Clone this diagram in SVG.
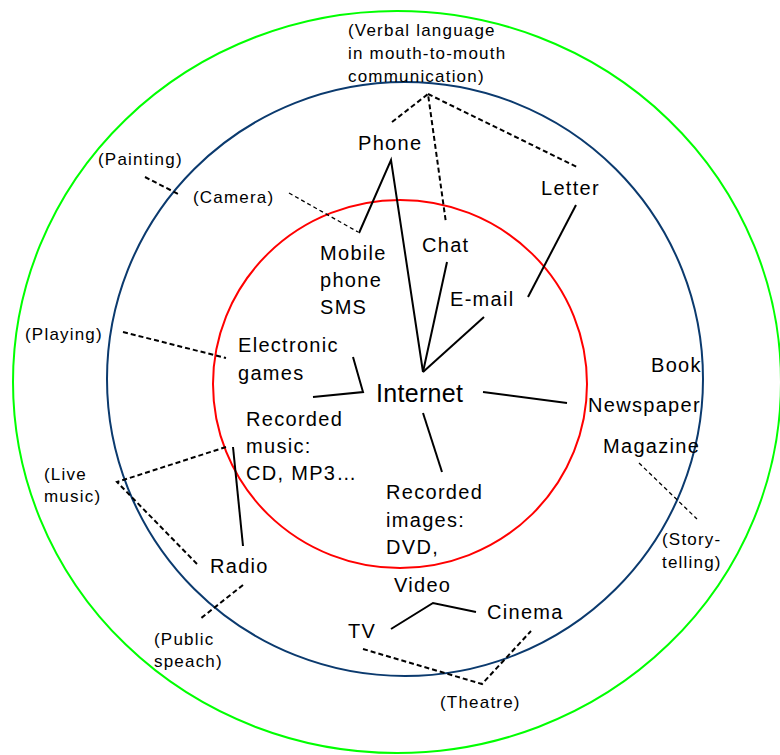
<svg xmlns="http://www.w3.org/2000/svg" width="780" height="755" viewBox="0 0 780 755">
  <style>
    .ring { fill: none; stroke-width: 2; }
    .lbl { font-family: "Liberation Sans", Arial, sans-serif; font-size: 20px; letter-spacing: 1.3px; fill: #000; }
    .big { font-size: 25px; letter-spacing: 0.3px; }
    .par { font-family: "Liberation Sans", Arial, sans-serif; font-size: 17px; letter-spacing: 1.2px; fill: #000; }
    .solid { fill: none; stroke: #000; stroke-width: 2; }
    .dash { fill: none; stroke: #000; stroke-width: 2; stroke-dasharray: 5 3; }
    .thin { fill: none; stroke: #000; stroke-width: 1.3; stroke-dasharray: 4 3; }
  </style>
  <rect width="780" height="755" fill="#fff"/>

  <!-- concentric rings -->
  <g id="rings">
    <ellipse class="ring" cx="397" cy="382" rx="384" ry="371" stroke="#00ff00"/>
    <ellipse class="ring" cx="405" cy="379" rx="298" ry="297" stroke="#0b3a6e"/>
    <ellipse class="ring" cx="400" cy="384" rx="187" ry="184" stroke="#ff0000"/>
  </g>

  <g id="connectors">
    <!-- solid links -->
    <polyline class="solid" points="359,233 391,160 423,372"/>
    <line class="solid" x1="447" y1="262" x2="423" y2="372"/>
    <line class="solid" x1="484" y1="317" x2="423" y2="372"/>
    <line class="solid" x1="576" y1="205" x2="528" y2="297"/>
    <polyline class="solid" points="353,357 363,392 313,397"/>
    <line class="solid" x1="483" y1="392" x2="567" y2="403"/>
    <line class="solid" x1="423" y1="413" x2="442" y2="472"/>
    <line class="solid" x1="233" y1="447" x2="243" y2="546"/>
    <polyline class="solid" points="391,629 433,603 476,612"/>
    <!-- dashed links -->
    <polyline class="dash" points="392,122 428,94 446,223"/>
    <line class="dash" x1="428" y1="94" x2="577" y2="167"/>
    <line class="thin" x1="289" y1="193" x2="358" y2="232"/>
    <line class="dash" x1="145" y1="177" x2="180" y2="195"/>
    <line class="dash" x1="123" y1="332" x2="226" y2="358"/>
    <polyline class="dash" points="226,447 117,482 198,565"/>
    <line class="dash" x1="243" y1="585" x2="200" y2="619"/>
    <line class="thin" x1="639" y1="463" x2="697" y2="519"/>
    <polyline class="dash" points="363,649 482,684 531,631"/>
  </g>

  <g id="verbal"><text class="par" x="348" y="36">(Verbal language</text><text class="par" x="348" y="59">in mouth-to-mouth</text><text class="par" x="348" y="82">communication)</text></g>
  <g id="phone"><text class="lbl" x="358" y="150">Phone</text></g>
  <g id="letter"><text class="lbl" x="541" y="195">Letter</text></g>
  <g id="painting"><text class="par" x="98" y="165">(Painting)</text></g>
  <g id="camera"><text class="par" x="193" y="203">(Camera)</text></g>
  <g id="chat"><text class="lbl" x="422" y="252">Chat</text></g>
  <g id="mobile"><text class="lbl" x="320" y="260">Mobile</text><text class="lbl" x="320" y="287">phone</text><text class="lbl" x="320" y="314">SMS</text></g>
  <g id="email"><text class="lbl" x="450" y="306">E-mail</text></g>
  <g id="playing"><text class="par" x="25" y="340">(Playing)</text></g>
  <g id="games"><text class="lbl" x="238" y="352">Electronic</text><text class="lbl" x="238" y="380">games</text></g>
  <g id="internet"><text class="lbl big" x="376" y="402">Internet</text></g>
  <g id="book"><text class="lbl" x="651" y="372">Book</text></g>
  <g id="newspaper"><text class="lbl" x="588" y="412">Newspaper</text></g>
  <g id="magazine"><text class="lbl" x="603" y="453">Magazine</text></g>
  <g id="storytelling"><text class="par" x="662" y="545">(Story-</text><text class="par" x="662" y="568">telling)</text></g>
  <g id="music"><text class="lbl" x="246" y="426">Recorded</text><text class="lbl" x="246" y="453">music:</text><text class="lbl" x="246" y="480">CD, MP3…</text></g>
  <g id="livemusic"><text class="par" x="44" y="480">(Live</text><text class="par" x="44" y="502">music)</text></g>
  <g id="images"><text class="lbl" x="386" y="499">Recorded</text><text class="lbl" x="386" y="527">images:</text><text class="lbl" x="386" y="554">DVD,</text></g>
  <g id="video"><text class="lbl" x="394" y="592">Video</text></g>
  <g id="radio"><text class="lbl" x="210" y="573">Radio</text></g>
  <g id="cinema"><text class="lbl" x="487" y="619">Cinema</text></g>
  <g id="tv"><text class="lbl" x="348" y="638">TV</text></g>
  <g id="speech"><text class="par" x="154" y="645">(Public</text><text class="par" x="154" y="667">speach)</text></g>
  <g id="theatre"><text class="par" x="440" y="708">(Theatre)</text></g>
</svg>
